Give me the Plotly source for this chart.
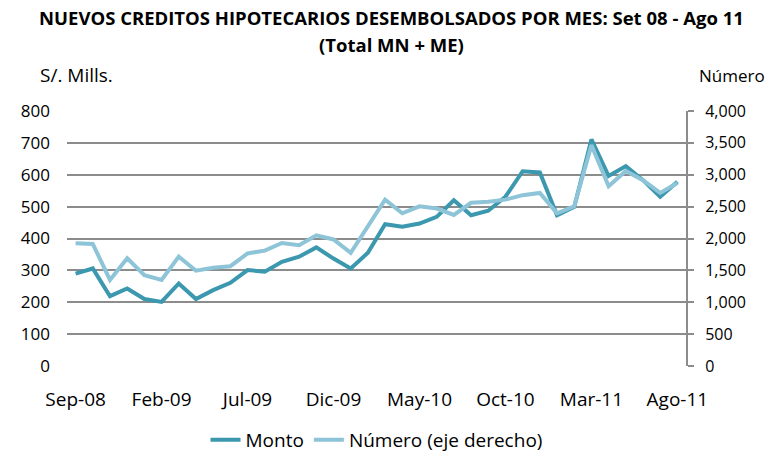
import plotly.graph_objects as go

meses = [
    "Sep-08", "Oct-08", "Nov-08", "Dic-08", "Ene-09", "Feb-09", "Mar-09", "Abr-09",
    "May-09", "Jun-09", "Jul-09", "Ago-09", "Sep-09", "Oct-09", "Nov-09", "Dic-09",
    "Ene-10", "Feb-10", "Mar-10", "Abr-10", "May-10", "Jun-10", "Jul-10", "Ago-10",
    "Sep-10", "Oct-10", "Nov-10", "Dic-10", "Ene-11", "Feb-11", "Mar-11", "Abr-11",
    "May-11", "Jun-11", "Jul-11", "Ago-11",
]
etiquetas = ["Sep-08", "Feb-09", "Jul-09", "Dic-09", "May-10", "Oct-10", "Mar-11", "Ago-11"]

monto = [
    290, 306, 219, 243, 210, 201, 259, 210, 238, 261, 301, 296,
    327, 343, 372, 337, 306, 355, 445, 437, 447, 468, 520, 473,
    487, 531, 611, 607, 473, 499, 711, 596, 627, 583, 531, 578,
]
numero = [
    1925, 1915, 1350, 1690, 1425, 1350, 1715, 1495, 1540, 1565, 1765, 1810,
    1930, 1895, 2050, 1985, 1775, 2185, 2610, 2395, 2505, 2470, 2370, 2560,
    2575, 2610, 2680, 2715, 2395, 2505, 3465, 2820, 3060, 2915, 2715, 2870,
]

c_monto = "#3b98ae"
c_numero = "#8ec4d7"
fuente = "Open Sans"

# plot area in pixels
L, R, T, B = 67, 83, 111, 88
W, H = 769, 454
pw, ph = W - L - R, H - T - B


def px_x(x):
    return (x - L) / pw


def px_y(y):
    return (H - B - y) / ph


fig = go.Figure()
fig.add_trace(go.Scatter(
    x=meses, y=monto, name="Monto", mode="lines",
    line=dict(color=c_monto, width=4),
))
fig.add_trace(go.Scatter(
    x=meses, y=numero, name="Número (eje derecho)", mode="lines",
    line=dict(color=c_numero, width=4), yaxis="y2",
))

fig.update_layout(
    width=W, height=H,
    paper_bgcolor="white", plot_bgcolor="white",
    margin=dict(l=L, r=R, t=T, b=B, autoexpand=False),
    font=dict(family=fuente, size=18, color="black"),
    xaxis=dict(
        type="category", categoryorder="array", categoryarray=meses,
        tickvals=etiquetas, ticktext=etiquetas, tickangle=0,
        range=[-0.5, 35.5], showgrid=False, showline=False, ticks="",
        ticklabelstandoff=20, automargin=False, tickfont=dict(size=19),
    ),
    yaxis=dict(
        range=[0, 800], dtick=100, showgrid=True, gridcolor="#8c8c8c", gridwidth=2,
        zeroline=False, showline=False, ticks="", ticklabelstandoff=16,
        automargin=False, tickfont=dict(size=17),
    ),
    yaxis2=dict(
        range=[0, 4000], dtick=500, tickformat=",", overlaying="y", side="right",
        showgrid=False, zeroline=False, showline=True, linecolor="#8c8c8c", linewidth=2,
        ticks="outside", tickcolor="#8c8c8c", ticklen=6, tickwidth=2,
        ticklabelstandoff=8, automargin=False, tickfont=dict(size=16),
    ),
    legend=dict(
        orientation="h", x=0.5, xanchor="center", y=px_y(440), yanchor="middle",
        font=dict(size=19), tracegroupgap=0,
    ),
)

fig.add_annotation(
    text="<b>NUEVOS CREDITOS HIPOTECARIOS DESEMBOLSADOS POR MES: Set 08 - Ago 11</b>",
    xref="paper", yref="paper", x=px_x(391), y=px_y(17),
    xanchor="center", yanchor="middle", showarrow=False, font=dict(size=18.5),
)
fig.add_annotation(
    text="<b>(Total MN + ME)</b>",
    xref="paper", yref="paper", x=px_x(391), y=px_y(44),
    xanchor="center", yanchor="middle", showarrow=False, font=dict(size=18.5),
)
fig.add_annotation(text="S/. Mills.", xref="paper", yref="paper",
                   x=px_x(38), y=px_y(75), xanchor="left", yanchor="middle",
                   showarrow=False, font=dict(size=19))
fig.add_annotation(text="Número", xref="paper", yref="paper",
                   x=px_x(767), y=px_y(75), xanchor="right", yanchor="middle",
                   showarrow=False, font=dict(size=17))

# drop the default page margin so the figure sits at the window's corner
fig.write_html("out.html", config={"displayModeBar": False},
               post_script="document.body.style.margin='0';")
